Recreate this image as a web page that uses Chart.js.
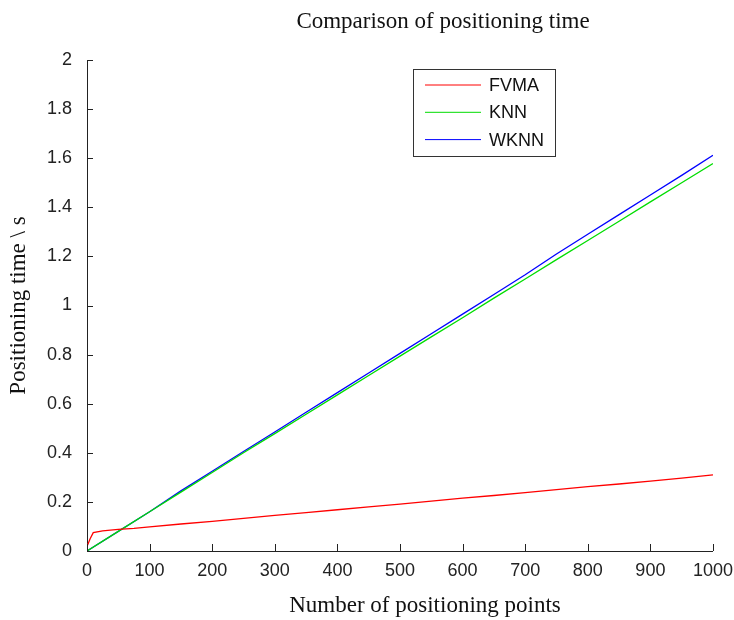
<!DOCTYPE html>
<html>
<head>
<meta charset="utf-8">
<script src="https://cdn.jsdelivr.net/npm/chart.js@4"></script>
<style>
  html, body { margin: 0; padding: 0; background: #fff; }
  #wrap { width: 734px; height: 620px; position: relative; }
</style>
</head>
<body>
<div id="wrap"><canvas id="c" width="734" height="620"></canvas></div>
<script>
// values
const xLinear = [0, 50, 100, 150, 200, 250, 300, 350, 400, 450, 500, 550, 600, 650, 700, 750, 800, 850, 900, 950, 1000];
const knn = [0, 0.08, 0.16, 0.24, 0.32, 0.40, 0.478, 0.557, 0.636, 0.715, 0.794, 0.872, 0.95, 1.03, 1.108, 1.187, 1.265, 1.343, 1.422, 1.50, 1.578];
const wknn = [0, 0.08, 0.16, 0.245, 0.325, 0.405, 0.485, 0.565, 0.645, 0.725, 0.805, 0.885, 0.965, 1.045, 1.125, 1.21, 1.29, 1.37, 1.45, 1.53, 1.612];
const xFvma = [0, 5, 10, 25, 50, 75, 100, 150, 200, 250, 300, 350, 400, 450, 500, 550, 600, 650, 700, 750, 800, 850, 900, 950, 1000];
const fvma = [0.018, 0.05, 0.075, 0.082, 0.088, 0.092, 0.098, 0.11, 0.121, 0.133, 0.145, 0.156, 0.168, 0.18, 0.191, 0.203, 0.215, 0.226, 0.238, 0.25, 0.262, 0.273, 0.285, 0.297, 0.31];
const xTicks = [0, 100, 200, 300, 400, 500, 600, 700, 800, 900, 1000];
const yTicks = [0, 0.2, 0.4, 0.6, 0.8, 1, 1.2, 1.4, 1.6, 1.8, 2];

const SANS = '"Liberation Sans", Arial, sans-serif';
const SERIF = '"Liberation Serif", "Times New Roman", serif';

const pts = (xs, ys) => xs.map((x, i) => ({ x, y: ys[i] }));

// Matlab-style inward ticks, boxed legend, offset title and x label
const matlabBits = {
  id: 'matlabBits',
  afterDraw(chart) {
    const { ctx, chartArea: a, scales: { x, y } } = chart;
    ctx.save();
    ctx.strokeStyle = '#222';
    ctx.lineWidth = 1;
    ctx.beginPath();
    xTicks.forEach(v => {
      const px = Math.round(x.getPixelForValue(v)) + 0.5;
      ctx.moveTo(px, a.bottom); ctx.lineTo(px, a.bottom - 7);
    });
    yTicks.forEach(v => {
      const py = Math.round(y.getPixelForValue(v)) + 0.5;
      ctx.moveTo(a.left, py); ctx.lineTo(a.left + 6, py);
    });
    ctx.stroke();

    ctx.fillStyle = '#111';
    ctx.font = '23px ' + SERIF;
    ctx.textAlign = 'center';
    ctx.textBaseline = 'alphabetic';
    ctx.fillText('Comparison of positioning time', 443, 28);
    ctx.fillText('Number of positioning points', 425, 612);

    // legend
    const bx = 413.5, by = 69.5, bw = 142, bh = 87;
    ctx.fillStyle = '#fff';
    ctx.fillRect(bx, by, bw, bh);
    ctx.strokeStyle = '#333';
    ctx.strokeRect(bx, by, bw, bh);
    ctx.font = '18px ' + SANS;
    ctx.textAlign = 'left';
    ctx.textBaseline = 'middle';
    chart.data.datasets.forEach((ds, i) => {
      const ly = 85 + i * 27.3;
      ctx.strokeStyle = ds.borderColor;
      ctx.beginPath();
      ctx.moveTo(425, ly); ctx.lineTo(481, ly);
      ctx.stroke();
      ctx.fillStyle = '#111';
      ctx.fillText(ds.label, 489, ly + 1);
    });
    ctx.restore();
  }
};

new Chart(document.getElementById('c'), {
  type: 'line',
  data: {
    datasets: [
      { label: 'FVMA', data: pts(xFvma, fvma), borderColor: '#ff0000' },
      { label: 'KNN', data: pts(xLinear, knn), borderColor: '#00dd00' },
      { label: 'WKNN', data: pts(xLinear, wknn), borderColor: '#0000ff' },
    ],
  },
  options: {
    responsive: false,
    animation: false,
    layout: { padding: { top: 60, right: 16, left: 0, bottom: 0 } },
    elements: {
      point: { radius: 0 },
      line: { borderWidth: 1.3, tension: 0 },
    },
    plugins: {
      legend: { display: false },
      title: { display: false },
      tooltip: { enabled: false },
    },
    scales: {
      x: {
        type: 'linear',
        min: 0,
        max: 1000,
        afterBuildTicks: (s) => { s.ticks = xTicks.map(v => ({ value: v })); },
        afterFit: (s) => { s.height = 69; },
        grid: { display: false },
        border: { display: true, color: '#222', width: 1 },
        ticks: {
          color: '#222', padding: 1, maxRotation: 0,
          font: { family: SANS, size: 18 },
          callback: (v) => String(v),
        },
        title: { display: false },
      },
      y: {
        min: 0,
        max: 2,
        afterBuildTicks: (s) => { s.ticks = yTicks.map(v => ({ value: v })); },
        afterFit: (s) => { s.width = 87; },
        grid: { display: false },
        border: { display: true, color: '#222', width: 1 },
        ticks: {
          color: '#222', padding: 7,
          font: { family: SANS, size: 18 },
          callback: (v) => String(Math.round(v * 10) / 10),
        },
        title: {
          display: true,
          text: 'Positioning time \\ s',
          color: '#111',
          font: { family: SERIF, size: 23 },
          padding: { top: 5, bottom: 0 },
        },
      },
    },
  },
  plugins: [matlabBits],
});
</script>
</body>
</html>
